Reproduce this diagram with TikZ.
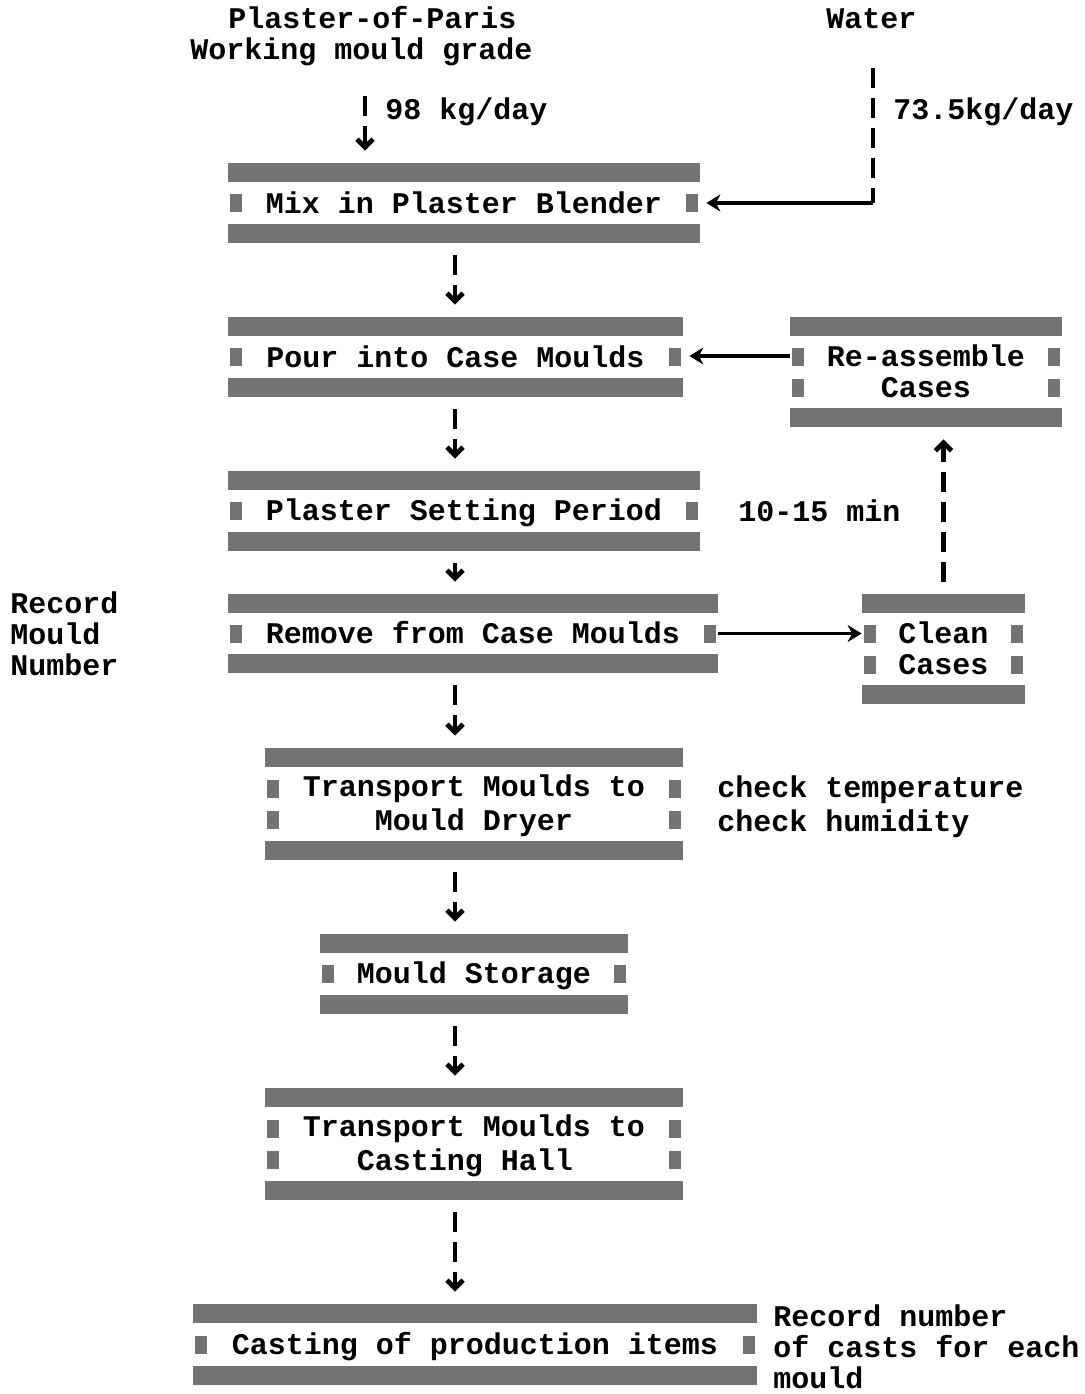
\documentclass[tikz,border=0pt]{standalone}
\usepackage{fontspec}
\setmainfont{Liberation Mono}
\usetikzlibrary{arrows.meta}
\newcommand\rs{\rule[-2.75pt]{0pt}{15.5pt}}
\tikzset{
  shadefill/.style={fill=black!55},
  blk/.style={inner sep=0pt, align=center, font=\fontsize{15}{15.5}\selectfont\bfseries},
  lbl/.style={inner sep=0pt, align=left, anchor=west, font=\fontsize{15}{15.5}\selectfont\bfseries},
  vflow/.style={line width=2.4pt, dash pattern=on 10pt off 5pt, shorten <=6pt, shorten >=6pt,
    -{Straight Barb[length=4pt,width=8pt]}},
  hflow/.style={line width=1.9pt, -{Stealth[length=7pt,width=8.5pt]}},
  wline/.style={line width=2.4pt, dash pattern=on 10pt off 5pt},
}
\newcommand\bars[1]{%
  \fill[shadefill] (#1.north west) rectangle ([yshift=-9.5pt]#1.north east);
  \fill[shadefill] (#1.south west) rectangle ([yshift=9.5pt]#1.south east);}
\newcommand\sides[2]{%
  \fill[shadefill] ([xshift=1pt,yshift=#2+4.5pt]#1.west) rectangle ([xshift=7pt,yshift=#2-4.5pt]#1.west);
  \fill[shadefill] ([xshift=-1pt,yshift=#2+4.5pt]#1.east) rectangle ([xshift=-7pt,yshift=#2-4.5pt]#1.east);}
\begin{document}
\begin{tikzpicture}[x=0.5pt,y=-0.5pt]
\useasboundingbox (0,0) rectangle (1084,1394);
% boxes
\node[blk, minimum width=236pt, minimum height=40pt] (b1) at (464,203) {\rs Mix in Plaster Blender};
\node[blk, minimum width=227.5pt, minimum height=40pt] (b2) at (455.5,357) {\rs Pour into Case Moulds};
\node[blk, minimum width=136pt, minimum height=55pt] (b2r) at (926,372) {\rs Re-assemble\\\rs Cases};
\node[blk, minimum width=236pt, minimum height=40pt] (b3) at (464,511) {\rs Plaster Setting Period};
\node[blk, minimum width=245pt, minimum height=39.5pt] (b4) at (473,633.5) {\rs Remove from Case Moulds};
\node[blk, minimum width=81.5pt, minimum height=55pt] (bc) at (943.5,649) {\rs Clean\\\rs Cases};
\node[blk, minimum width=209pt, minimum height=56pt] (b5) at (474,804) {\rs Transport Moulds to\\\rs Mould Dryer};
\node[blk, minimum width=154pt, minimum height=40pt] (b6) at (474,974) {\rs Mould Storage};
\node[blk, align=left, minimum width=209pt, minimum height=56pt] (b7) at (474,1144) {\rs Transport Moulds to\\\rs\hphantom{xxx}Casting Hall};
\node[blk, minimum width=282pt, minimum height=40.5pt] (b8) at (475,1344.5) {\rs Casting of production items};
% shaded borders
\foreach \n in {b1,b2,b2r,b3,b4,bc,b5,b6,b7,b8} {\bars{\n}}
\foreach \n in {b1,b2,b3,b4,b6,b8} {\sides{\n}{0pt}}
\foreach \n in {b2r,bc,b5,b7} {\sides{\n}{7.75pt}\sides{\n}{-7.75pt}}
% labels
\node[lbl] (t1) at (228,18) {\rs Plaster-of-Paris};
\node[lbl] (t2) at (190,50) {\rs Working mould grade};
\node[lbl] (tw) at (826,18) {\rs Water};
\node[lbl] (q1) at (385,110) {\rs 98 kg/day};
\node[lbl] (q2) at (893,110) {\rs 73.5kg/day};
\node[lbl] (tm) at (738,511) {\rs 10-15 min};
\node[lbl] (rec) at (10,634) {\rs Record\\\rs Mould\\\rs Number};
\node[lbl] (chk) at (717,805) {\rs check temperature\\\rs check humidity};
\node[lbl] (rn) at (773,1347) {\rs Record number\\\rs of casts for each\\\rs mould};
% coordinates
\coordinate (ax) at (455,0);
\coordinate (p1) at (365,96);
\coordinate (w1) at (873,68);
% connectors
\draw[vflow, shorten <=0pt] (p1) -- (p1 |- b1.north);
\draw[wline] (w1) -- (w1 |- b1.east);
\draw[hflow, shorten >=3pt] (w1 |- b1.east) -- (b1.east);
\draw[vflow] (b1.south -| ax) -- (b2.north -| ax);
\draw[vflow] (b2.south -| ax) -- (b3.north -| ax);
\draw[vflow] (b3.south -| ax) -- (b4.north -| ax);
\draw[vflow] (b4.south -| ax) -- (b5.north -| ax);
\draw[vflow] (b5.south -| ax) -- (b6.north -| ax);
\draw[vflow] (b6.south -| ax) -- (b7.north -| ax);
\draw[vflow] (b7.south -| ax) -- (b8.north -| ax);
\draw[hflow, shorten >=3pt] ([yshift=0.5pt]b2.east -| b2r.west) -- ([yshift=0.5pt]b2.east);
\draw[hflow] (b4.east) -- (b4.east -| bc.west);
\draw[vflow] (bc.north) -- (bc.north |- b2r.south);
\end{tikzpicture}
\end{document}
